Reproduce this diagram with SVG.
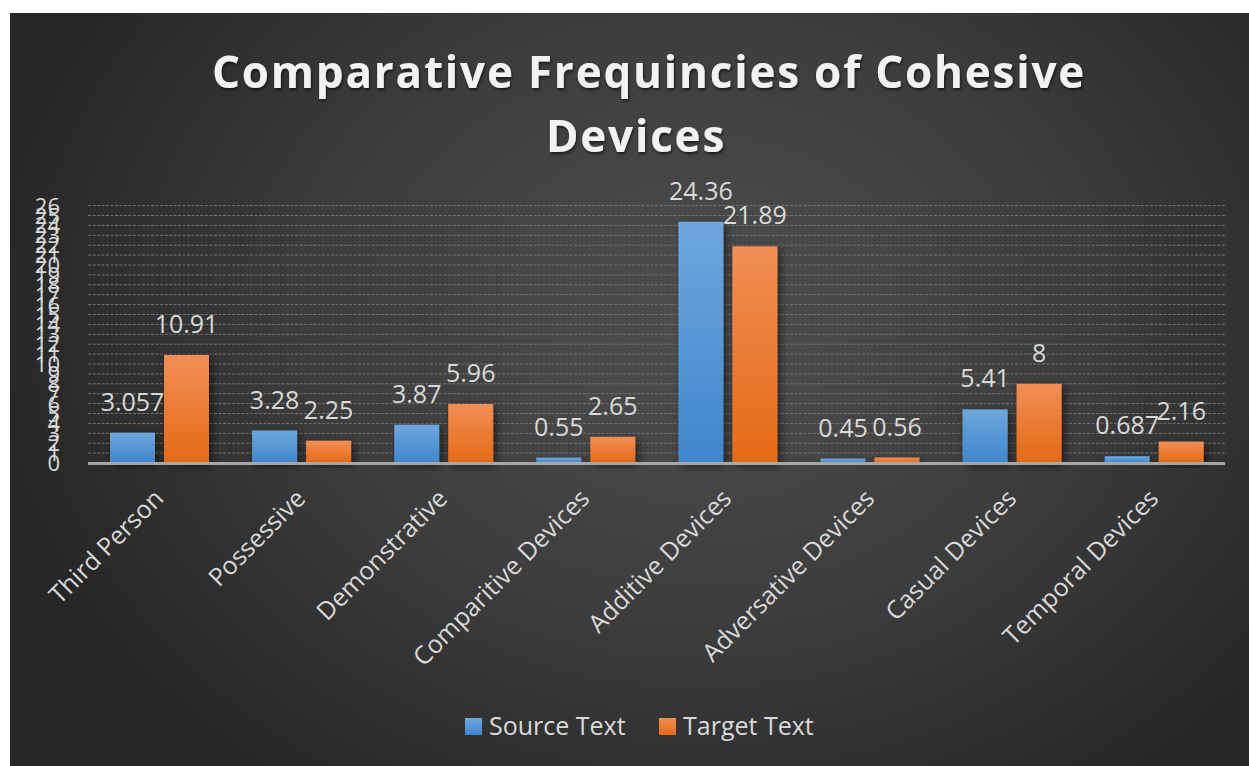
<svg xmlns="http://www.w3.org/2000/svg" width="1249" height="766" viewBox="0 0 1249 766">
  <defs>
    <radialGradient id="bg" gradientUnits="userSpaceOnUse" cx="700" cy="320" r="720" gradientTransform="translate(700 320) scale(1 0.8) translate(-700 -320)">
      <stop offset="0" stop-color="#4e4e4e"/>
      <stop offset="0.55" stop-color="#3c3c3c"/>
      <stop offset="1" stop-color="#262626"/>
    </radialGradient>
    <linearGradient id="blueFill" x1="0" y1="0" x2="0" y2="1">
      <stop offset="0" stop-color="#6ea7dd"/>
      <stop offset="1" stop-color="#4086cc"/>
    </linearGradient>
    <linearGradient id="orangeFill" x1="0" y1="0" x2="0" y2="1">
      <stop offset="0" stop-color="#f28e55"/>
      <stop offset="1" stop-color="#e46a16"/>
    </linearGradient>
    <filter id="barShadow" x="-50%" y="-20%" width="200%" height="140%">
      <feDropShadow dx="3" dy="3" stdDeviation="4" flood-color="#000" flood-opacity="0.55"/>
    </filter>
    <filter id="titleShadow" x="-10%" y="-30%" width="120%" height="160%">
      <feDropShadow dx="1" dy="2" stdDeviation="1.5" flood-color="#000" flood-opacity="0.6"/>
    </filter>
  </defs>
  <style>
    .grid { stroke: #727272; stroke-width: 1; stroke-dasharray: 3 1.5; }
    .axis { stroke: #a6a6a6; stroke-width: 3; }
    .tick { font-family: "Open Sans", "Noto Sans", sans-serif; font-size: 22px; fill: #d9d9d9; text-anchor: end; }
    .val { font-family: "Open Sans", "Noto Sans", sans-serif; font-size: 25px; fill: #d9d9d9; text-anchor: middle; }
    .cat { font-family: "Open Sans", "Noto Sans", sans-serif; font-size: 25px; fill: #d9d9d9; text-anchor: end; }
    .title { font-family: "Open Sans", "Noto Sans", sans-serif; font-size: 44px; font-weight: bold; fill: #f2f2f2; letter-spacing: 1.8px; text-anchor: middle; }
    .legend { font-family: "Open Sans", "Noto Sans", sans-serif; font-size: 25px; fill: #d9d9d9; }
    .blue { fill: url(#blueFill); filter: url(#barShadow); }
    .orange { fill: url(#orangeFill); filter: url(#barShadow); }
  </style>

  <!-- page and chart background -->
  <rect x="0" y="0" width="1249" height="766" fill="#ffffff"/>
  <rect x="10" y="13" width="1239" height="753" fill="url(#bg)"/>

  <!-- title -->
  <g id="title" filter="url(#titleShadow)">
    <text class="title" x="649" y="88">Comparative Frequincies of Cohesive</text>
    <text class="title" x="636" y="152">Devices</text>
  </g>

  <!-- horizontal gridlines, one per unit (1..26) -->
  <g id="gridlines">
    <line class="grid" x1="88" x2="1225" y1="453.1" y2="453.1"/>
    <line class="grid" x1="88" x2="1225" y1="443.2" y2="443.2"/>
    <line class="grid" x1="88" x2="1225" y1="433.3" y2="433.3"/>
    <line class="grid" x1="88" x2="1225" y1="423.4" y2="423.4"/>
    <line class="grid" x1="88" x2="1225" y1="413.5" y2="413.5"/>
    <line class="grid" x1="88" x2="1225" y1="403.6" y2="403.6"/>
    <line class="grid" x1="88" x2="1225" y1="393.7" y2="393.7"/>
    <line class="grid" x1="88" x2="1225" y1="383.8" y2="383.8"/>
    <line class="grid" x1="88" x2="1225" y1="373.9" y2="373.9"/>
    <line class="grid" x1="88" x2="1225" y1="364.0" y2="364.0"/>
    <line class="grid" x1="88" x2="1225" y1="354.1" y2="354.1"/>
    <line class="grid" x1="88" x2="1225" y1="344.2" y2="344.2"/>
    <line class="grid" x1="88" x2="1225" y1="334.3" y2="334.3"/>
    <line class="grid" x1="88" x2="1225" y1="324.4" y2="324.4"/>
    <line class="grid" x1="88" x2="1225" y1="314.5" y2="314.5"/>
    <line class="grid" x1="88" x2="1225" y1="304.6" y2="304.6"/>
    <line class="grid" x1="88" x2="1225" y1="294.7" y2="294.7"/>
    <line class="grid" x1="88" x2="1225" y1="284.8" y2="284.8"/>
    <line class="grid" x1="88" x2="1225" y1="274.9" y2="274.9"/>
    <line class="grid" x1="88" x2="1225" y1="265.0" y2="265.0"/>
    <line class="grid" x1="88" x2="1225" y1="255.1" y2="255.1"/>
    <line class="grid" x1="88" x2="1225" y1="245.2" y2="245.2"/>
    <line class="grid" x1="88" x2="1225" y1="235.3" y2="235.3"/>
    <line class="grid" x1="88" x2="1225" y1="225.4" y2="225.4"/>
    <line class="grid" x1="88" x2="1225" y1="215.5" y2="215.5"/>
    <line class="grid" x1="88" x2="1225" y1="205.6" y2="205.6"/>
  </g>

  <!-- value axis labels -->
  <g id="value-axis">
    <text class="tick" x="60" y="471">0</text>
    <text class="tick" x="60" y="461.1">1</text>
    <text class="tick" x="60" y="451.2">2</text>
    <text class="tick" x="60" y="441.3">3</text>
    <text class="tick" x="60" y="431.4">4</text>
    <text class="tick" x="60" y="421.5">5</text>
    <text class="tick" x="60" y="411.6">6</text>
    <text class="tick" x="60" y="401.7">7</text>
    <text class="tick" x="60" y="391.8">8</text>
    <text class="tick" x="60" y="381.9">9</text>
    <text class="tick" x="60" y="372.0">10</text>
    <text class="tick" x="60" y="362.1">11</text>
    <text class="tick" x="60" y="352.2">12</text>
    <text class="tick" x="60" y="342.3">13</text>
    <text class="tick" x="60" y="332.4">14</text>
    <text class="tick" x="60" y="322.5">15</text>
    <text class="tick" x="60" y="312.6">16</text>
    <text class="tick" x="60" y="302.7">17</text>
    <text class="tick" x="60" y="292.8">18</text>
    <text class="tick" x="60" y="282.9">19</text>
    <text class="tick" x="60" y="273.0">20</text>
    <text class="tick" x="60" y="263.1">21</text>
    <text class="tick" x="60" y="253.2">22</text>
    <text class="tick" x="60" y="243.3">23</text>
    <text class="tick" x="60" y="233.4">24</text>
    <text class="tick" x="60" y="223.5">25</text>
    <text class="tick" x="60" y="213.6">26</text>
  </g>

  <!-- bars and data labels, one group per category -->
  <g id="cat-third-person">
    <rect class="blue" x="110" y="432.7" width="45" height="30.3"/>
    <rect class="orange" x="164" y="355.0" width="45" height="108.0"/>
    <text class="val" x="132.5" y="410.7">3.057</text>
    <text class="val" x="186.5" y="333">10.91</text>
    <text class="cat" transform="translate(165 500) rotate(-45)">Third Person</text>
  </g>
  <g id="cat-possessive">
    <rect class="blue" x="252.1" y="430.5" width="45" height="32.5"/>
    <rect class="orange" x="306.1" y="440.7" width="45" height="22.3"/>
    <text class="val" x="274.6" y="408.5">3.28</text>
    <text class="val" x="328.6" y="418.7">2.25</text>
    <text class="cat" transform="translate(307 500) rotate(-45)">Possessive</text>
  </g>
  <g id="cat-demonstrative">
    <rect class="blue" x="394.2" y="424.7" width="45" height="38.3"/>
    <rect class="orange" x="448.2" y="404.0" width="45" height="59.0"/>
    <text class="val" x="416.7" y="402.7">3.87</text>
    <text class="val" x="470.7" y="382">5.96</text>
    <text class="cat" transform="translate(449 500) rotate(-45)">Demonstrative</text>
  </g>
  <g id="cat-comparitive">
    <rect class="blue" x="536.3" y="457.6" width="45" height="5.4"/>
    <rect class="orange" x="590.3" y="436.8" width="45" height="26.2"/>
    <text class="val" x="558.8" y="435.6">0.55</text>
    <text class="val" x="612.8" y="414.8">2.65</text>
    <text class="cat" transform="translate(591 500) rotate(-45)">Comparitive Devices</text>
  </g>
  <g id="cat-additive">
    <rect class="blue" x="678.4" y="221.8" width="45" height="241.2"/>
    <rect class="orange" x="732.4" y="246.3" width="45" height="216.7"/>
    <text class="val" x="700.9" y="199.8">24.36</text>
    <text class="val" x="754.9" y="224.3">21.89</text>
    <text class="cat" transform="translate(733 500) rotate(-45)">Additive Devices</text>
  </g>
  <g id="cat-adversative">
    <rect class="blue" x="820.5" y="458.5" width="45" height="4.5"/>
    <rect class="orange" x="874.5" y="457.5" width="45" height="5.5"/>
    <text class="val" x="843" y="436.5">0.45</text>
    <text class="val" x="897" y="435.5">0.56</text>
    <text class="cat" transform="translate(876 500) rotate(-45)">Adversative Devices</text>
  </g>
  <g id="cat-casual">
    <rect class="blue" x="962.6" y="409.4" width="45" height="53.6"/>
    <rect class="orange" x="1016.6" y="383.8" width="45" height="79.2"/>
    <text class="val" x="985.1" y="387.4">5.41</text>
    <text class="val" x="1039.1" y="361.8">8</text>
    <text class="cat" transform="translate(1018 500) rotate(-45)">Casual Devices</text>
  </g>
  <g id="cat-temporal">
    <rect class="blue" x="1104.7" y="456.2" width="45" height="6.8"/>
    <rect class="orange" x="1158.7" y="441.6" width="45" height="21.4"/>
    <text class="val" x="1127.2" y="434.2">0.687</text>
    <text class="val" x="1181.2" y="419.6">2.16</text>
    <text class="cat" transform="translate(1160 500) rotate(-45)">Temporal Devices</text>
  </g>

  <!-- category axis line -->
  <line id="category-axis" class="axis" x1="88" x2="1225" y1="463.5" y2="463.5"/>

  <!-- legend -->
  <g id="legend">
    <rect x="465" y="718" width="17" height="17" fill="url(#blueFill)"/>
    <text class="legend" x="489" y="735">Source Text</text>
    <rect x="659" y="718" width="17" height="17" fill="url(#orangeFill)"/>
    <text class="legend" x="683" y="735">Target Text</text>
  </g>
</svg>
